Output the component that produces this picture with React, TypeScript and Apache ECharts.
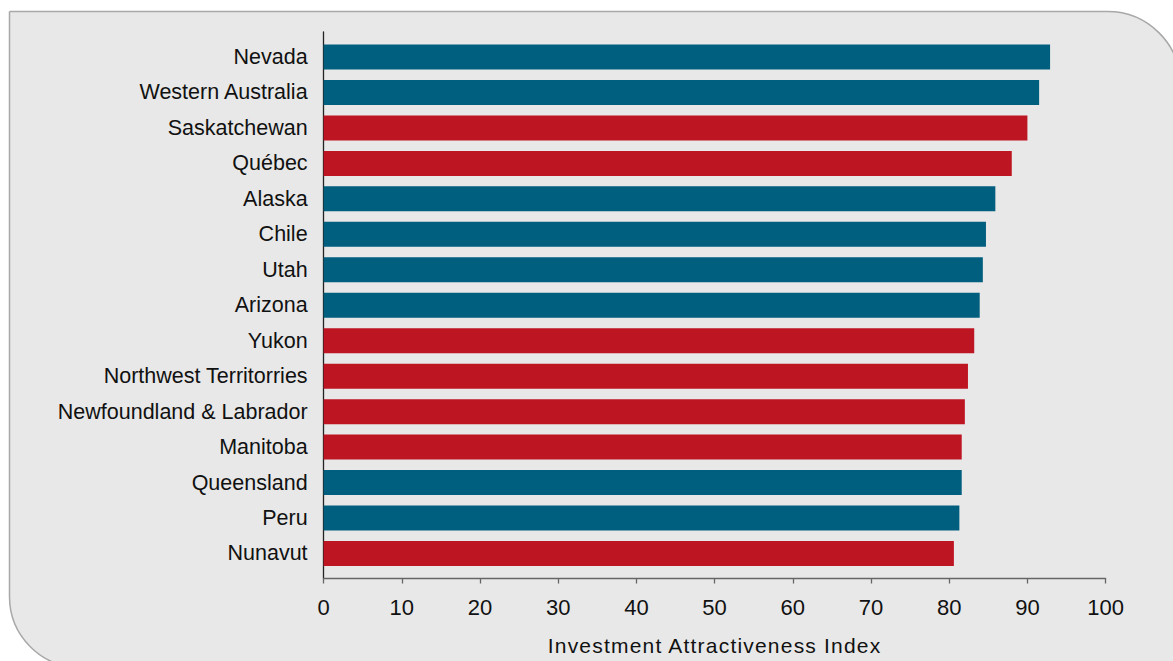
import React, { useEffect, useRef } from "react";
import * as echarts from "echarts";

const categories = [
  "Nevada",
  "Western Australia",
  "Saskatchewan",
  "Québec",
  "Alaska",
  "Chile",
  "Utah",
  "Arizona",
  "Yukon",
  "Northwest Territorries",
  "Newfoundland & Labrador",
  "Manitoba",
  "Queensland",
  "Peru",
  "Nunavut",
];
const values = [92.9, 91.5, 90.0, 88.0, 85.9, 84.7, 84.3, 83.9, 83.2, 82.4, 82.0, 81.6, 81.6, 81.3, 80.6];
// "ca" = Canadian jurisdiction (red), "other" = blue
const groups = ["other", "other", "ca", "ca", "other", "other", "other", "other", "ca", "ca", "ca", "ca", "other", "other", "ca"];
const xTicks = [0, 10, 20, 30, 40, 50, 60, 70, 80, 90, 100];
const axisName = "Investment Attractiveness Index";

const BLUE = "#005E7E";
const RED = "#BE1522";
const FONT = "'Liberation Sans', Arial, sans-serif";

export default function App() {
  const ref = useRef<HTMLDivElement>(null);
  useEffect(() => {
    if (!ref.current) return;
    const chart = echarts.init(ref.current, undefined, { renderer: "svg" });
    const left = 323.6;
    const right = 1173 - 1105.6;
    chart.setOption({
      animation: false,
      backgroundColor: "#ffffff",
      graphic: [
        {
          type: "rect",
          z: -10,
          silent: true,
          shape: { x: 9.5, y: 11.5, width: 1171, height: 656, r: [0, 73, 0, 71] },
          style: { fill: "#E8E8E8", stroke: "#A8A8A8", lineWidth: 1.5 },
        },
      ],
      grid: [
        { left, right, top: 39.3, bottom: 661 - 571.2 },
        { left, right, top: 32, bottom: 661 - 578.5 },
      ],
      xAxis: [
        {
          gridIndex: 0,
          type: "value",
          min: 0,
          max: 100,
          interval: 10,
          show: false,
        },
        {
          gridIndex: 1,
          type: "value",
          min: 0,
          max: 100,
          interval: 10,
          axisLine: { show: true, lineStyle: { color: "#666666", width: 1.3 } },
          axisTick: { show: true, length: 5, lineStyle: { color: "#666666", width: 1.3 } },
          splitLine: { show: false },
          axisLabel: {
            margin: 18,
            fontSize: 22,
            color: "#111111",
            fontFamily: FONT,
            formatter: (v: number) => (xTicks.includes(v) ? String(v) : ""),
          },
          name: axisName,
          nameLocation: "middle",
          nameGap: 56,
          nameTextStyle: { fontSize: 21, color: "#111111", fontFamily: FONT },
        },
      ],
      yAxis: [
        {
          gridIndex: 0,
          type: "category",
          data: categories,
          inverse: true,
          axisLine: { show: false },
          axisTick: { show: false },
          axisLabel: { margin: 16, fontSize: 21.5, color: "#111111", fontFamily: FONT },
        },
        {
          gridIndex: 1,
          type: "value",
          min: 0,
          max: 1,
          axisLine: { show: true, onZero: false, lineStyle: { color: "#222222", width: 1.3 } },
          axisTick: { show: false },
          axisLabel: { show: false },
          splitLine: { show: false },
        },
      ],
      series: [
        {
          type: "bar",
          xAxisIndex: 0,
          yAxisIndex: 0,
          barWidth: 25,
          data: values.map((v, i) => ({
            value: v,
            itemStyle: { color: groups[i] === "ca" ? RED : BLUE },
          })),
        },
      ],
    });
    const svgTexts = ref.current.querySelectorAll("text");
    svgTexts.forEach((t) => {
      if (t.textContent === axisName) {
        (t as SVGTextElement).style.letterSpacing = "1.2px";
      }
    });
    return () => chart.dispose();
  }, []);
  return (
    <div
      ref={ref}
      style={{ position: "fixed", left: 0, top: 0, width: 1173, height: 661 }}
    />
  );
}
